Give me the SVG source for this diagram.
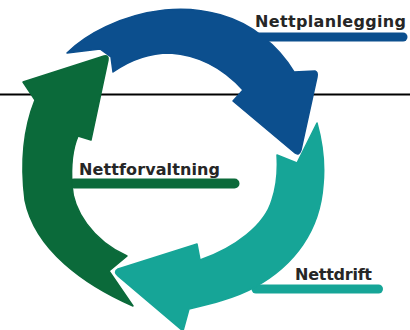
<svg xmlns="http://www.w3.org/2000/svg" width="410" height="330" viewBox="0 0 410 330">
  <style>
    .label { font-family: "DejaVu Sans", "Liberation Sans", sans-serif; font-weight: bold; font-size: 16px; fill: #262626; }
    .blue { fill: #0c4f8e; stroke: #0c4f8e; }
    .green { fill: #0b6a3a; stroke: #0b6a3a; }
    .teal { fill: #16a597; stroke: #16a597; }
    .shape { stroke-width: 1.5; stroke-linejoin: round; }
    .bar { fill: none; stroke-linecap: round; }
  </style>
  <rect width="410" height="330" fill="#ffffff"/>

  <!-- horizontal rule behind the cycle -->
  <g id="connectors">
    <line x1="0" y1="94.5" x2="410" y2="94.5" stroke="#000000" stroke-width="1.8"/>
  </g>

  <!-- planning: blue arrow over the top -->
  <g id="nettplanlegging">
    <line class="bar" x1="252" y1="37" x2="403" y2="37" stroke="#0c4f8e" stroke-width="9"/>
    <path class="shape blue" d="M67,53 C85,35 120,15 165,10 C205,6 240,18 262,36 C275,46 287,60 294,72 L315,71 Q318,72 317,77 L301,150 Q299,156 295,153 L233,101 L243,90 C225,70 200,55 170,53 C150,53 130,60 113,72 L111,57 L100,49 Z"/>
    <text class="label" x="255" y="27" font-size="16.5" textLength="151">Nettplanlegging</text>
  </g>

  <!-- operation: teal arrow on the right and bottom -->
  <g id="nettdrift">
    <line class="bar" x1="256" y1="289" x2="378.5" y2="289" stroke="#16a597" stroke-width="9"/>
    <path class="shape teal" d="M317,123 C323,145 325,165 323,185 C320,230 295,265 255,287 C235,298 210,304 189,309 L183,331 L118,276 Q113,272 118,269 L197,244 L200,260 C235,248 265,225 272,200 C277,185 278,170 277,155 L297,163 Z"/>
    <text class="label" x="295" y="280" textLength="77">Nettdrift</text>
  </g>

  <!-- management: green arrow on the left -->
  <g id="nettforvaltning">
    <line class="bar" x1="74" y1="183.5" x2="234.5" y2="183.5" stroke="#0b6a3a" stroke-width="10"/>
    <path class="shape green" d="M23,82 L104,56 Q109,55 108,60 L91,140 L78,136 C72,150 71,170 72,185 C73,210 92,240 127,256 L109,271 L133,306 C85,285 35,250 25,200 C20,160 25,125 35,100 Z"/>
    <text class="label" x="79" y="175" textLength="141">Nettforvaltning</text>
  </g>
</svg>
